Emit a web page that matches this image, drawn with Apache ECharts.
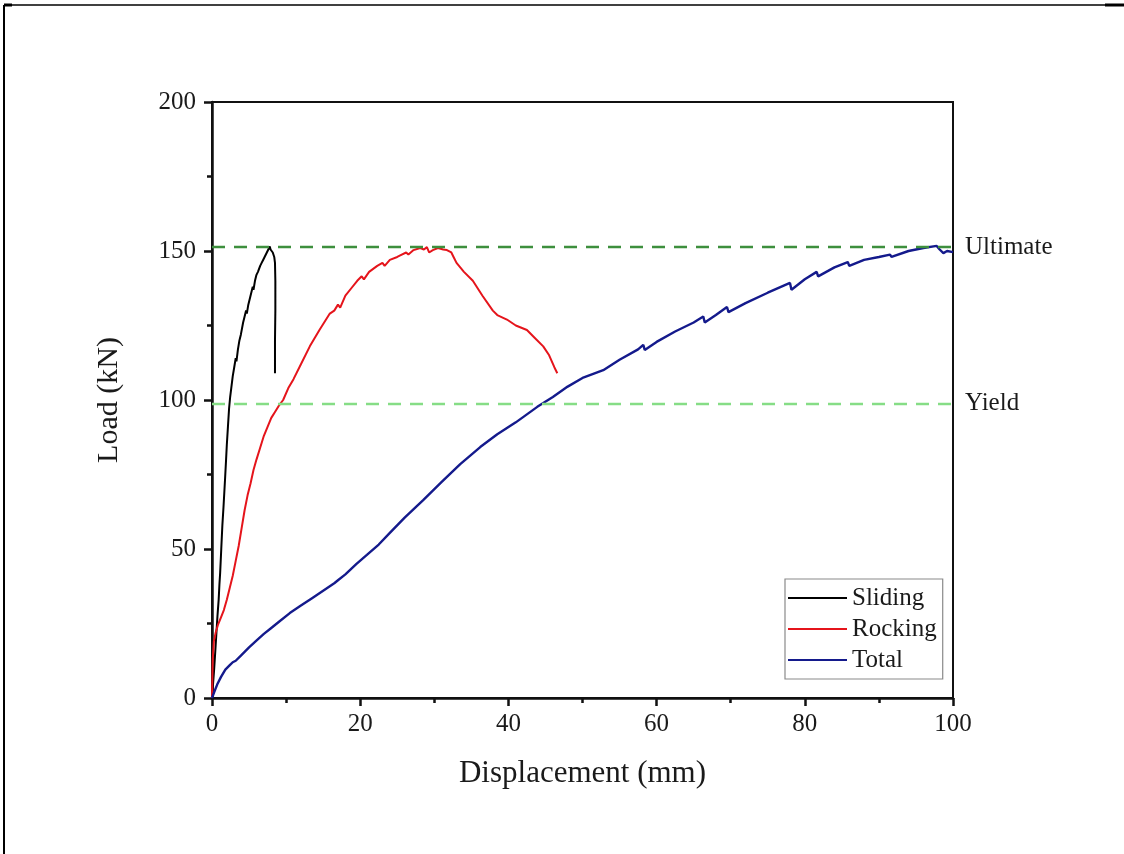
<!DOCTYPE html>
<html>
<head>
<meta charset="utf-8">
<script src="https://cdn.jsdelivr.net/npm/echarts@6/dist/echarts.min.js"></script>
<style>
  html, body { margin: 0; padding: 0; background: #fff; }
  #chart { width: 1124px; height: 854px; }
</style>
</head>
<body>
<div id="chart"></div>
<script>
// Load–displacement curves: [displacement (mm), load (kN)]
const slidingData = [
  [0,0],[0.15,5],[0.3,10],[0.45,16],[0.6,22],[0.75,28],[0.9,33],[1.0,38],[1.1,42],[1.25,50],
  [1.4,58],[1.55,64],[1.75,73],[1.9,80],[2.0,85],[2.15,91],[2.3,97],[2.45,101],[2.6,104],[2.8,108],
  [3.0,111],[3.2,114],[3.3,113],[3.5,117],[3.7,120],[3.9,122],[4.0,121.5],[4.2,126],[4.4,128],[4.6,130],
  [4.7,129],[4.9,132],[5.1,134],[5.3,136],[5.5,138],[5.6,137],[5.8,140],[6.0,142],[6.2,143],[6.3,142.5],
  [6.5,145],[6.7,146],[6.9,147],[7.1,148],[7.2,147.5],[7.4,149.5],[7.6,150.5],[7.8,151.5],[7.9,150.5],[8.0,151],
  [8.2,149.5],[8.4,148],[8.5,146],[8.55,140],[8.55,130],[8.5,120],[8.5,109]
];
const rockingData = [
  [0,0],[0.05,7],[0.1,13],[0.25,19],[0.5,22],[0.8,24.5],[1.2,27],[1.6,29.5],[2.0,33],[2.4,37],
  [2.8,41],[3.2,46],[3.6,51],[4.0,57],[4.4,63],[4.8,68],[5.2,72],[5.6,76.5],[6.0,80],[6.5,84],
  [7.0,88],[7.5,91],[8.0,94],[8.5,96],[9.0,98],[9.6,100],[10.3,104],[11,107],[12,112],[13.2,118],
  [14.5,123.5],[15.9,129],[16.5,130],[17,132],[17.3,131],[18,135],[18.8,137.5],[19.6,140],[20.2,141.5],[20.5,140.5],
  [21.2,143],[22.3,145],[23,146],[23.3,145],[24,147],[25,148],[25.4,148.5],[26.2,149.5],[26.5,148.8],[27.2,150.3],
  [28.1,151],[28.6,150.5],[29,151.3],[29.3,149.5],[29.8,150.3],[30.5,151],[31.2,150.5],[31.7,150.3],[32.3,149.5],[32.6,148],
  [33,146],[34,143],[35.2,140],[36.5,135],[37.9,130],[38.5,128.5],[39.8,127],[41,125],[42.5,123.5],[43.5,121],
  [44.7,118],[45.5,115],[46.2,111],[46.6,109]
];
const totalData = [
  [0,0],[0.3,2],[0.7,4.5],[1.2,7],[1.8,9.5],[2.4,11],[2.8,12],[3.2,12.5],[4,14.5],[5,17],
  [6.1,19.5],[7,21.5],[8,23.5],[9,25.5],[10.5,28.5],[12,31],[13.5,33.5],[15,36],[16.5,38.5],[17,39.5],
  [18,41.5],[19.5,45],[20.9,48],[22.5,51.5],[24,55.4],[26,60.5],[28.5,66.4],[31,72.5],[33.5,78.5],[36.2,84.2],
  [38.5,88.5],[41,92.5],[43.9,97.7],[46,101],[48,104.5],[50,107.4],[52.8,110],[55,113.5],[57.5,117],[58.2,118.5],
  [58.4,116.8],[60,119.5],[62.5,123],[65,126],[66.3,128],[66.5,126],[68,128.5],[69.5,131.2],[69.7,129.5],[72,132.5],
  [75,136],[78,139.3],[78.2,137],[80,140.5],[81.6,143],[81.8,141.5],[84,144.5],[85.8,146.3],[86,145],[88,147],
  [90,148],[91.5,148.8],[91.7,148],[94,150],[96,151],[97.8,151.7],[98.2,150.5],[98.7,149.3],[99.2,150],[100,149.6]
];

// Reference load levels
const ultimateLoad = 151.3;
const yieldLoad = 98.7;
const levelNames = ['Ultimate', 'Yield'];
const seriesNames = ['Sliding', 'Rocking', 'Total'];
const seriesColors = ['#000000', '#e5141b', '#141a8c'];

const FONT = "'Liberation Serif', 'Times New Roman', serif";
const TXT = '#1a1a1a';

const chart = echarts.init(document.getElementById('chart'), null, { renderer: 'canvas' });

chart.setOption({
  backgroundColor: '#fff',
  animation: false,
  grid: {
    left: 212, right: 171, top: 102, bottom: 156,
    show: true, borderColor: '#111', borderWidth: 2, backgroundColor: 'transparent'
  },
  xAxis: {
    type: 'value', min: 0, max: 100, interval: 20,
    name: 'Displacement (mm)', nameLocation: 'middle', nameGap: 60,
    nameTextStyle: { fontFamily: FONT, fontSize: 31, color: TXT },
    axisLine: { show: true, onZero: false, lineStyle: { color: '#111', width: 2.5 } },
    axisTick: { show: true, inside: false, length: 8, lineStyle: { color: '#111', width: 2.5 } },
    minorTick: { show: true, splitNumber: 2, length: 5, lineStyle: { color: '#111', width: 2.5 } },
    axisLabel: { margin: 14, fontFamily: FONT, fontSize: 25, color: TXT },
    splitLine: { show: false }
  },
  yAxis: {
    type: 'value', min: 0, max: 200, interval: 50,
    name: 'Load (kN)', nameLocation: 'middle', nameGap: 88,
    nameTextStyle: { fontFamily: FONT, fontSize: 30, color: TXT },
    axisLine: { show: true, onZero: false, lineStyle: { color: '#111', width: 2.5 } },
    axisTick: { show: true, inside: false, length: 8, lineStyle: { color: '#111', width: 2.5 } },
    minorTick: { show: true, splitNumber: 2, length: 5, lineStyle: { color: '#111', width: 2.5 } },
    axisLabel: { margin: 16, fontFamily: FONT, fontSize: 25, color: TXT },
    splitLine: { show: false }
  },
  legend: {
    orient: 'vertical', left: 785, top: 579,
    padding: [6, 6, 6, 3],
    itemWidth: 59, itemHeight: 2, itemGap: 5,
    backgroundColor: '#fff', borderColor: '#8a8a8a', borderWidth: 1.2, borderRadius: 0,
    textStyle: { fontFamily: FONT, fontSize: 25, color: TXT, lineHeight: 26 },
    data: seriesNames.map(n => ({ name: n, icon: 'rect' }))
  },
  series: [
    {
      name: seriesNames[0], type: 'line', data: slidingData, symbol: 'none',
      lineStyle: { color: seriesColors[0], width: 2 }, itemStyle: { color: seriesColors[0] }, z: 3
    },
    {
      name: seriesNames[1], type: 'line', data: rockingData, symbol: 'none',
      lineStyle: { color: seriesColors[1], width: 2 }, itemStyle: { color: seriesColors[1] }, z: 3
    },
    {
      name: seriesNames[2], type: 'line', data: totalData, symbol: 'none',
      lineStyle: { color: seriesColors[2], width: 2.4 }, itemStyle: { color: seriesColors[2] }, z: 3,
      markLine: {
        silent: true, symbol: 'none', animation: false,
        label: {
          show: true, position: 'end', distance: 12,
          fontFamily: FONT, fontSize: 25, color: TXT
        },
        data: [
          {
            yAxis: ultimateLoad,
            label: { formatter: levelNames[0] },
            lineStyle: { color: '#3d8f3d', type: [13, 9], width: 2.4 }
          },
          {
            yAxis: yieldLoad,
            label: { formatter: levelNames[1] },
            lineStyle: { color: '#86dd86', type: [13, 9], width: 2.4 }
          }
        ]
      }
    }
  ],
  graphic: [
    // outer frame edges
    { type: 'line', shape: { x1: 4, y1: 5, x2: 4, y2: 854 }, style: { stroke: '#000', lineWidth: 2 } },
    { type: 'line', shape: { x1: 4, y1: 5, x2: 1105, y2: 5 }, style: { stroke: '#000', lineWidth: 1.5 } },
    { type: 'line', shape: { x1: 1105, y1: 5, x2: 1124, y2: 5 }, style: { stroke: '#000', lineWidth: 3 } },
    { type: 'line', shape: { x1: 4, y1: 5, x2: 12, y2: 5 }, style: { stroke: '#000', lineWidth: 3 } }
  ]
});
</script>
</body>
</html>
